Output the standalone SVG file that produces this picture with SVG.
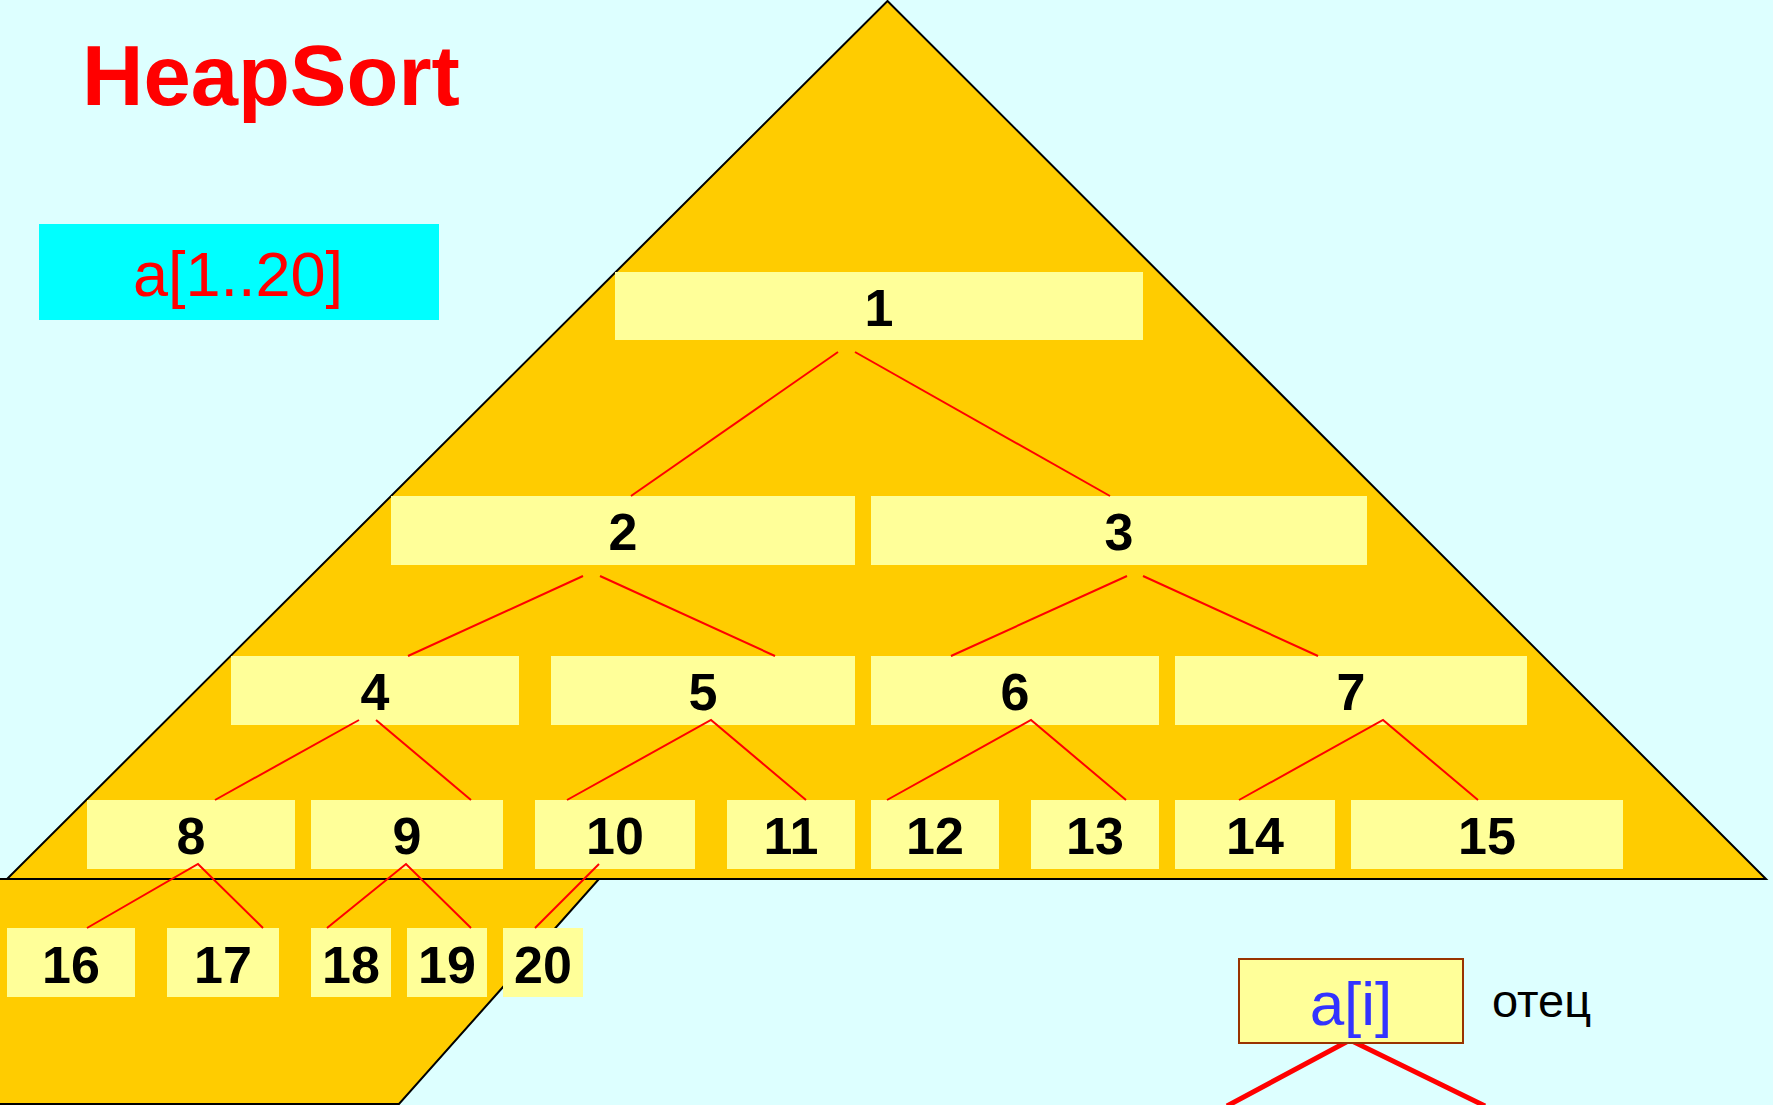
<svg xmlns="http://www.w3.org/2000/svg" width="1773" height="1105" viewBox="0 0 1773 1105">
<style>
.bx{fill:#FFFF99}
.num{font-family:"Liberation Sans",Arial,sans-serif;font-weight:bold;font-size:52px;fill:#000;text-anchor:middle}
.ln{stroke:#FF0000;stroke-width:2;fill:none}
</style>
<rect x="0" y="0" width="1773" height="1105" fill="#DDFFFF"/>
<polygon points="887.5,1 1766,879 7,879" fill="#FFCC00" stroke="#000" stroke-width="2"/>
<polygon points="-3,879 599,879 399,1104 -3,1104" fill="#FFCC00" stroke="#000" stroke-width="2"/>
<text x="82" y="105" font-family="Liberation Sans, Arial, sans-serif" font-weight="bold" font-size="85" fill="#FF0000">HeapSort</text>
<g id="range">
<rect x="39" y="224" width="400" height="96" fill="#00FFFF"/>
<text x="238" y="296" font-family="Liberation Sans, Arial, sans-serif" font-size="63" fill="#FF0000" text-anchor="middle">a[1..20]</text>
</g>
<g id="n1"><rect class="bx" x="615" y="272" width="528" height="68"/><text class="num" x="879" y="326">1</text></g>
<g id="n2"><rect class="bx" x="391" y="496" width="464" height="69"/><text class="num" x="623" y="550">2</text></g>
<g id="n3"><rect class="bx" x="871" y="496" width="496" height="69"/><text class="num" x="1119" y="550">3</text></g>
<g id="n4"><rect class="bx" x="231" y="656" width="288" height="69"/><text class="num" x="375" y="710">4</text></g>
<g id="n5"><rect class="bx" x="551" y="656" width="304" height="69"/><text class="num" x="703" y="710">5</text></g>
<g id="n6"><rect class="bx" x="871" y="656" width="288" height="69"/><text class="num" x="1015" y="710">6</text></g>
<g id="n7"><rect class="bx" x="1175" y="656" width="352" height="69"/><text class="num" x="1351" y="710">7</text></g>
<g id="n8"><rect class="bx" x="87" y="800" width="208" height="69"/><text class="num" x="191" y="854">8</text></g>
<g id="n9"><rect class="bx" x="311" y="800" width="192" height="69"/><text class="num" x="407" y="854">9</text></g>
<g id="n10"><rect class="bx" x="535" y="800" width="160" height="69"/><text class="num" x="615" y="854">10</text></g>
<g id="n11"><rect class="bx" x="727" y="800" width="128" height="69"/><text class="num" x="791" y="854">11</text></g>
<g id="n12"><rect class="bx" x="871" y="800" width="128" height="69"/><text class="num" x="935" y="854">12</text></g>
<g id="n13"><rect class="bx" x="1031" y="800" width="128" height="69"/><text class="num" x="1095" y="854">13</text></g>
<g id="n14"><rect class="bx" x="1175" y="800" width="160" height="69"/><text class="num" x="1255" y="854">14</text></g>
<g id="n15"><rect class="bx" x="1351" y="800" width="272" height="69"/><text class="num" x="1487" y="854">15</text></g>
<g id="n16"><rect class="bx" x="7" y="928" width="128" height="69"/><text class="num" x="71" y="983">16</text></g>
<g id="n17"><rect class="bx" x="167" y="928" width="112" height="69"/><text class="num" x="223" y="983">17</text></g>
<g id="n18"><rect class="bx" x="311" y="928" width="80" height="69"/><text class="num" x="351" y="983">18</text></g>
<g id="n19"><rect class="bx" x="407" y="928" width="80" height="69"/><text class="num" x="447" y="983">19</text></g>
<g id="n20"><rect class="bx" x="503" y="928" width="80" height="69"/><text class="num" x="543" y="983">20</text></g>
<g id="connectors">
<line class="ln" x1="838" y1="352" x2="631" y2="496"/>
<line class="ln" x1="855" y1="352" x2="1110" y2="496"/>
<line class="ln" x1="583" y1="576" x2="408" y2="656"/>
<line class="ln" x1="600" y1="576" x2="775" y2="656"/>
<line class="ln" x1="1127" y1="576" x2="951" y2="656"/>
<line class="ln" x1="1143" y1="576" x2="1318" y2="656"/>
<line class="ln" x1="359" y1="720" x2="215" y2="800"/>
<line class="ln" x1="376" y1="720" x2="471" y2="800"/>
<polyline class="ln" points="567,800 711,720 806,800"/>
<polyline class="ln" points="887,800 1031,720 1126,800"/>
<polyline class="ln" points="1239,800 1383,720 1478,800"/>
<polyline class="ln" points="87,928 198,864 263,928"/>
<polyline class="ln" points="327,928 406,864 471,928"/>
<line class="ln" x1="599" y1="864" x2="535" y2="928"/>
<polyline points="1227,1106 1350,1040 1485,1106" fill="none" stroke="#FF0000" stroke-width="5"/>
</g>
<g id="ai">
<rect x="1239" y="959" width="224" height="84" fill="#FFFF99" stroke="#993300" stroke-width="2"/>
<text x="1351" y="1025" font-family="Liberation Sans, Arial, sans-serif" font-size="62" fill="#3333FF" text-anchor="middle">a[i]</text>
</g>
<text x="1492" y="1017" font-family="Liberation Sans, Arial, sans-serif" font-size="47" fill="#000">отец</text>
</svg>
